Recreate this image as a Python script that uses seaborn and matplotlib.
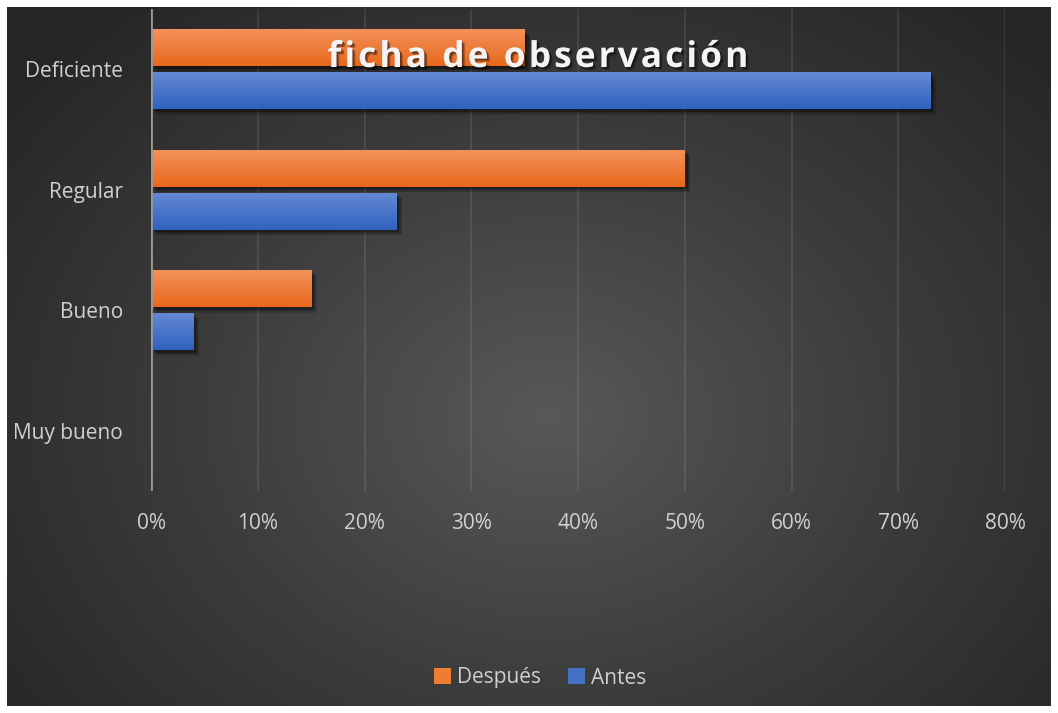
import numpy as np
import pandas as pd
import matplotlib
matplotlib.use('Agg')
import matplotlib.pyplot as plt
import matplotlib.patheffects as pe
from matplotlib.patches import Patch
from matplotlib.colors import LinearSegmentedColormap
import seaborn as sns

# Data
categorias = ['Deficiente', 'Regular', 'Bueno', 'Muy bueno']
despues = [0.35, 0.50, 0.15, 0.0]
antes = [0.73, 0.23, 0.04, 0.0]
series = ['Después', 'Antes']
x_ticks = [0, 0.1, 0.2, 0.3, 0.4, 0.5, 0.6, 0.7, 0.8]
titulo = 'ficha de observación'

df = pd.DataFrame({
    'categoria': categorias * 2,
    'valor': despues + antes,
    'serie': [series[0]] * len(categorias) + [series[1]] * len(categorias),
})

colores = {'Después': '#ED7D31', 'Antes': '#4472C4'}
grad_colores = {'Después': ('#f3915a', '#e8681c'), 'Antes': ('#6489d3', '#2f62bf')}

sns.set_theme(style='dark')
plt.rcParams['font.family'] = ['Open Sans', 'DejaVu Sans']

W, H = 1058, 713
fig = plt.figure(figsize=(W / 100, H / 100), dpi=100, facecolor='white')

# radial gradient background
bg = fig.add_axes([7 / W, 7 / H, (1051 - 7) / W, (706 - 7) / H])
yy, xx = np.mgrid[0:700, 0:1044]
d = np.sqrt(((xx - 540) / 680.0) ** 2 + ((yy - 410) / 540.0) ** 2)
d = np.clip(d, 0, 1)
bg_cmap = LinearSegmentedColormap.from_list('bg', ['#585858', '#3d3d3d', '#262626'])
bg.imshow(d, cmap=bg_cmap, aspect='auto', interpolation='bilinear')
bg.set_axis_off()

ax = fig.add_axes([151 / W, (H - 491) / H, (1005 - 151) / W, (491 - 9) / H])
ax.set_facecolor('none')

sns.barplot(data=df, y='categoria', x='valor', hue='serie', hue_order=series,
            palette=colores, orient='h', width=0.714, gap=0.146, ax=ax,
            legend=False, zorder=2, linewidth=0)

sombra = [pe.SimplePatchShadow(offset=(4, -4), alpha=0.15, shadow_rgbFace='black'),
          pe.SimplePatchShadow(offset=(3, -3), alpha=0.2, shadow_rgbFace='black'),
          pe.SimplePatchShadow(offset=(2, -2), alpha=0.25, shadow_rgbFace='black'),
          pe.Normal()]

# shadows and vertical gradients on the bars
for p in ax.patches:
    w = p.get_width()
    if w <= 0:
        continue
    nombre = series[0] if p.get_facecolor()[0] > 0.6 else series[1]
    c1, c2 = grad_colores[nombre]
    p.set_path_effects(sombra)
    x0, y0, h = p.get_x(), p.get_y(), p.get_height()
    g = np.linspace(0, 1, 64).reshape(-1, 1)
    cm = LinearSegmentedColormap.from_list('g', [c1, c2])
    ax.imshow(g, cmap=cm, aspect='auto', extent=[x0, x0 + w, y0 + h, y0],
              origin='upper', zorder=3, interpolation='bilinear')

ax.set_xlim(0, 0.8)
ax.set_ylim(3.5, -0.5)
ax.set_xticks(x_ticks)
ax.set_xticklabels([f'{int(round(t * 100))}%' for t in x_ticks])
ax.grid(axis='x', color='white', alpha=0.09, linewidth=1.5, zorder=1)
ax.grid(axis='y', visible=False)
ax.axvline(0, color='#9a9a9a', linewidth=2, zorder=4)
for s in ax.spines.values():
    s.set_visible(False)
ax.set_xlabel('')
ax.set_ylabel('')
ax.tick_params(axis='x', colors='#d0d0d0', labelsize=15, pad=16, length=0)
ax.tick_params(axis='y', colors='#d0d0d0', labelsize=15, pad=20, length=0)

# title with extra letter spacing
renderer = fig.canvas.get_renderer()
tkw = dict(fontsize=25.5, fontweight='bold', color='#f4f4f4')


def ancho(s):
    t = fig.text(0, 0, s, **tkw)
    w = t.get_window_extent(renderer).width
    t.remove()
    return w


espacio = 3.0
izq = []
for i, ch in enumerate(titulo):
    fin = ancho(titulo[:i + 1].replace(' ', '\u00a0'))
    izq.append(fin - ancho(ch.replace(' ', '\u00a0')) + i * espacio)
total = ancho(titulo) + (len(titulo) - 1) * espacio
x_ini = 538 - total / 2
for ch, xl in zip(titulo, izq):
    if ch == ' ':
        continue
    fig.text((x_ini + xl) / W, 1 - 58 / H, ch, ha='left', va='center', **tkw,
             path_effects=[pe.SimplePatchShadow(offset=(2, -2), alpha=0.35, shadow_rgbFace='black'),
                           pe.SimplePatchShadow(offset=(1, -1), alpha=0.3, shadow_rgbFace='black'),
                           pe.Normal()])

handles = [Patch(facecolor=colores[s], edgecolor='none', label=s) for s in series]
fig.legend(handles=handles, loc='center', bbox_to_anchor=(540 / W, 1 - 678 / H), ncol=2,
           frameon=False, handlelength=0.8, handleheight=0.8, handletextpad=0.3,
           columnspacing=1.3, fontsize=15, labelcolor='#d0d0d0')

fig.savefig('out.png', dpi=100, facecolor='white')
